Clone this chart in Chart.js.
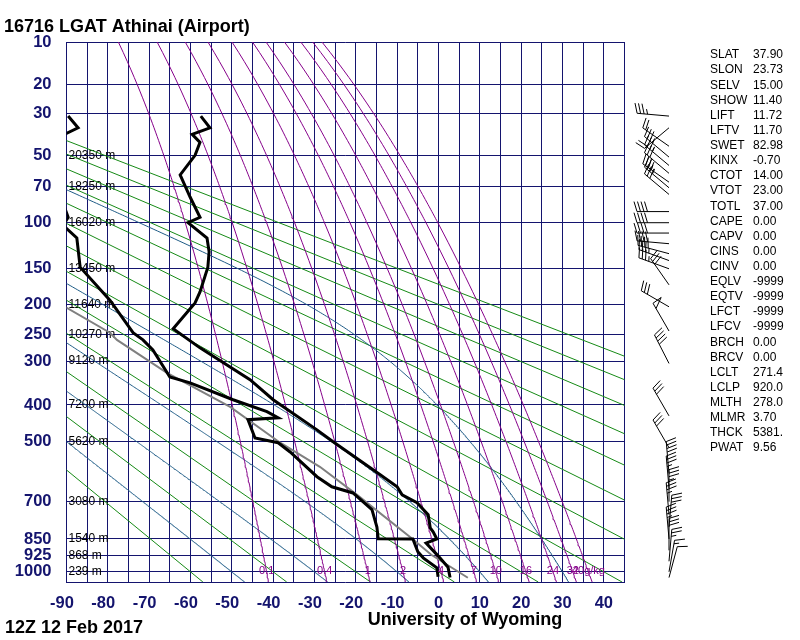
<!DOCTYPE html>
<html>
<head>
<meta charset="utf-8">
<script src="https://cdn.jsdelivr.net/npm/chart.js@4.4.1/dist/chart.umd.min.js"></script>
<style>
  html, body { margin: 0; padding: 0; background: #fff; }
</style>
</head>
<body>
<canvas id="stuve" width="800" height="640"></canvas>
<script>
// sounding (hPa, degC)
const tempP = [31, 36, 39, 43, 50, 62, 78, 95, 100, 115, 130, 148, 181, 197, 239, 274, 340, 387, 466, 500, 604, 646, 675, 704, 750, 803, 820, 850, 868, 925, 978, 1028];
const tempC = [-57.5, -55.3, -59.6, -57.7, -58.9, -62.5, -60.1, -57.7, -60.6, -56.0, -55.5, -55.8, -57.7, -58.9, -64.2, -57.7, -45.6, -40.0, -29.4, -25.5, -14.1, -10.0, -8.8, -5.2, -2.5, -2.0, -1.3, -0.4, -3.0, -0.1, 2.3, 2.8];

const dewP = [31, 36, 39, 55, 80, 87, 95, 100, 104, 115, 148, 193, 246, 259, 278, 334, 347, 387, 417, 433, 438, 489, 503, 531, 611, 646, 668, 730, 800, 849, 850, 906, 934, 981, 1024];
const dewC = [-89.6, -87.2, -90.4, -95, -95, -90.4, -89.6, -90.4, -90.4, -87.5, -86.7, -79.5, -73.9, -71.5, -69.1, -65.0, -60.1, -49.7, -41.5, -38.8, -46.1, -44.4, -38.8, -35.9, -29.4, -25.8, -20.7, -16.1, -14.9, -14.6, -6.2, -5.0, -3.7, -0.4, -0.1];

const parcelP = [1029, 920, 851, 675, 578, 503, 405, 325, 259, 246, 203];
const parcelC = [7.1, -1.75, -6.2, -19.7, -28.7, -38.3, -50.4, -65.7, -77.8, -79.5, -90.4];

// diagram furniture
const pressureTicks = [10, 20, 30, 50, 70, 100, 150, 200, 250, 300, 400, 500, 700, 850, 925, 1000];
const heightP = [50, 70, 100, 150, 200, 250, 300, 400, 500, 700, 850, 925, 1000];
const heightText = ['20350 m', '18250 m', '16020 m', '13450 m', '11640 m', '10270 m', '9120 m', '7200 m', '5620 m', '3080 m', '1540 m', '868 m', '239 m'];
const dryAdiabatT1000 = [-60, -40, -20, 0, 20, 40, 60, 80, 100, 120, 140, 160, 180];
const moistAdiabatT1000 = [-50, -30, -10, 10, 30];
const mixingRatios = [0.1, 0.4, 1, 2, 4, 7, 10, 16, 24, 32, 40];
const mixingText = ['0.1', '0.4', '1', '2', '4', '7', '10', '16', '24', '32', '40g/kg'];

// winds (hPa, deg, knots)
const windP = [31, 36, 45, 51, 56, 61, 67, 71, 76, 90, 100, 110, 121, 132, 140, 150, 171, 203, 243, 305, 428, 518, 600, 650, 700, 750, 800, 850, 900, 950, 1000, 1028];
const windDir = [275, 230, 305, 310, 310, 310, 305, 310, 310, 270, 270, 270, 275, 285, 290, 290, 325, 300, 330, 333, 330, 330, 355, 355, 0, 355, 5, 355, 0, 5, 10, 15];
const windKt = [35, 20, 20, 35, 35, 30, 35, 35, 30, 40, 40, 40, 40, 40, 35, 35, 30, 30, 50, 40, 30, 30, 40, 35, 35, 35, 30, 35, 30, 25, 15, 10];

const statNames = ['SLAT', 'SLON', 'SELV', 'SHOW', 'LIFT', 'LFTV', 'SWET', 'KINX', 'CTOT', 'VTOT', 'TOTL', 'CAPE', 'CAPV', 'CINS', 'CINV', 'EQLV', 'EQTV', 'LFCT', 'LFCV', 'BRCH', 'BRCV', 'LCLT', 'LCLP', 'MLTH', 'MLMR', 'THCK', 'PWAT'];
const statValues = ['37.90', '23.73', '15.00', '11.40', '11.72', '11.70', '82.98', '-0.70', '14.00', '23.00', '37.00', '0.00', '0.00', '0.00', '0.00', '-9999', '-9999', '-9999', '-9999', '0.00', '0.00', '271.4', '920.0', '278.0', '3.70', '5381.', '9.56'];

const KAPPA = 0.286;
const pk = p => Math.pow(p, KAPPA);
const NAVY = '#14146e';

// pressure samples for the curved background lines
const sampleP = [];
for (let p = 1050; p > 100; p -= 10) sampleP.push(p);
for (let p = 100; p >= 10; p -= 2) sampleP.push(p);

function satVap(tc) { return 6.112 * Math.exp(17.67 * tc / (tc + 243.5)); }

function moistLapse(p, tk) {
  const es = satVap(tk - 273.15);
  const rs = 0.622 * es / (p - es);
  const num = 287.04 * tk + 2.501e6 * rs;
  const den = 1005.7 + 2.501e6 * 2.501e6 * rs * 0.622 / (287.04 * tk * tk);
  return num / den / p;
}

function moistCurve(t0) {
  const stepT = (p, t, dp) => {
    const k1 = moistLapse(p, t);
    const k2 = moistLapse(p + dp / 2, t + k1 * dp / 2);
    return t + k2 * dp;
  };
  const up = [];
  let t = t0 + 273.15, p = 1000;
  up.push({ p, t });
  while (p > 10) { const dp = p > 100 ? -2 : -1; t = stepT(p, t, dp); p += dp; up.push({ p, t }); }
  const down = [];
  t = t0 + 273.15; p = 1000;
  while (p < 1050) { t = stepT(p, t, 2); p += 2; down.push({ p, t }); }
  return down.reverse().concat(up).map(o => ({ x: o.t - 273.15, y: pk(o.p) }));
}

function mixingT(w, p) {
  const e = (w / 1000) * p / (0.622 + w / 1000);
  const l = Math.log(e / 6.112);
  return 243.5 * l / (17.67 - l);
}

function mixingCurve(w) {
  return sampleP.map(p => ({ x: mixingT(w, p), y: pk(p) }));
}

const line = (data, color, width, order) => ({
  data, borderColor: color, borderWidth: width, showLine: true,
  pointRadius: 0, fill: false, clip: 0, order, tension: 0
});

const datasets = [];
datasets.push(line(tempP.map((p, i) => ({ x: tempC[i], y: pk(p) })), '#000', 3, 0));
datasets.push(line(dewP.map((p, i) => ({ x: dewC[i], y: pk(p) })), '#000', 3, 0));
datasets.push(line(parcelP.map((p, i) => ({ x: parcelC[i], y: pk(p) })), '#808080', 2, 1));
mixingRatios.forEach(w => datasets.push(line(mixingCurve(w), '#86008a', 1, 2)));
moistAdiabatT1000.forEach(t => datasets.push(line(moistCurve(t), '#1f5c86', 1, 3)));
dryAdiabatT1000.forEach(t => {
  const th = t + 273.15;
  datasets.push(line([1050, 10].map(p => ({ x: th * Math.pow(p / 1000, KAPPA) - 273.15, y: pk(p) })), '#168a16', 1, 4));
});

function drawBarb(ctx, x, y, dir, kt) {
  const r = dir * Math.PI / 180;
  const vx = Math.sin(r), vy = -Math.cos(r);
  const px = -vy, py = vx;
  const L = 32;
  const tx = x + vx * L, ty = y + vy * L;
  ctx.beginPath();
  ctx.moveTo(x, y);
  ctx.lineTo(tx, ty);
  ctx.stroke();
  let s = Math.round(kt / 5) * 5;
  let pos = 0;
  while (s >= 50) {
    const ax = tx - vx * pos, ay = ty - vy * pos;
    const bx = tx - vx * (pos + 6), by = ty - vy * (pos + 6);
    ctx.beginPath();
    ctx.moveTo(ax, ay);
    ctx.lineTo(ax + px * 10 + vx * 1, ay + py * 10 + vy * 1);
    ctx.lineTo(bx, by);
    ctx.stroke();
    s -= 50; pos += 8;
  }
  while (s >= 10) {
    const ax = tx - vx * pos, ay = ty - vy * pos;
    ctx.beginPath();
    ctx.moveTo(ax, ay);
    ctx.lineTo(ax + px * 10 + vx * 3, ay + py * 10 + vy * 3);
    ctx.stroke();
    s -= 10; pos += 3.5;
  }
  if (s >= 5) {
    const ax = tx - vx * pos, ay = ty - vy * pos;
    ctx.beginPath();
    ctx.moveTo(ax, ay);
    ctx.lineTo(ax + px * 5 + vx * 1.5, ay + py * 5 + vy * 1.5);
    ctx.stroke();
  }
}

const decorations = {
  id: 'decorations',
  beforeDatasetsDraw(chart) {
    const { ctx, chartArea, scales } = chart;
    ctx.save();
    ctx.fillStyle = '#000';
    ctx.font = '12px "Liberation Sans", Arial, sans-serif';
    ctx.textBaseline = 'middle';
    ctx.textAlign = 'left';
    heightP.forEach((p, i) => ctx.fillText(heightText[i], chartArea.left + 2, scales.y.getPixelForValue(pk(p))));
    ctx.restore();
  },
  afterDatasetsDraw(chart) {
    const { ctx, scales } = chart;
    ctx.save();
    // mixing ratio labels along 1000 hPa
    ctx.fillStyle = '#86008a';
    ctx.font = '11px "Liberation Sans", Arial, sans-serif';
    ctx.textAlign = 'center';
    ctx.textBaseline = 'middle';
    const y1000 = scales.y.getPixelForValue(pk(1000)) - 1;
    mixingRatios.forEach((w, i) => ctx.fillText(mixingText[i], scales.x.getPixelForValue(mixingT(w, 1000)), y1000));

    // titles
    ctx.fillStyle = '#000';
    ctx.textBaseline = 'alphabetic';
    ctx.font = 'bold 18px "Liberation Sans", Arial, sans-serif';
    ctx.textAlign = 'left';
    ctx.fillText('16716 LGAT Athinai (Airport)', 4, 32);
    ctx.fillText('12Z 12 Feb 2017', 5, 633);
    ctx.textAlign = 'center';
    ctx.fillText('University of Wyoming', 465, 625);

    // station indices
    ctx.font = '12px "Liberation Sans", Arial, sans-serif';
    ctx.textAlign = 'left';
    ctx.textBaseline = 'middle';
    statNames.forEach((n, i) => {
      const y = 55 + i * 15.12;
      ctx.fillText(n, 710, y);
      ctx.fillText(statValues[i], 753, y);
    });

    // wind barbs
    ctx.strokeStyle = '#000';
    ctx.lineWidth = 1;
    windP.forEach((p, i) => drawBarb(ctx, 669, scales.y.getPixelForValue(pk(p)), windDir[i], windKt[i]));
    ctx.restore();
  }
};

new Chart(document.getElementById('stuve'), {
  type: 'scatter',
  data: { datasets },
  options: {
    responsive: false,
    animation: false,
    events: [],
    layout: { padding: { top: 42, right: 175.5, left: 0, bottom: 0 } },
    plugins: { legend: { display: false }, tooltip: { enabled: false } },
    scales: {
      x: {
        type: 'linear',
        min: -90,
        max: 45,
        afterFit: scale => { scale.height = 58; },
        afterBuildTicks: scale => {
          const t = [];
          for (let v = -90; v <= 45; v += 5) t.push({ value: v });
          scale.ticks = t;
        },
        grid: { color: NAVY, lineWidth: 1, drawTicks: false },
        border: { color: NAVY, width: 1 },
        ticks: {
          autoSkip: false,
          maxRotation: 0,
          padding: 12,
          color: NAVY,
          font: { family: '"Liberation Sans", Arial, sans-serif', size: 16.5, weight: 'bold' },
          callback: v => (v % 10 === 0 && v <= 40) ? (v < 0 ? v + '  ' : String(v)) : ''
        }
      },
      y: {
        type: 'linear',
        reverse: true,
        min: pk(10),
        max: pk(1050),
        afterFit: scale => { scale.width = 66.5; },
        afterBuildTicks: scale => { scale.ticks = pressureTicks.map(p => ({ value: pk(p) })); },
        grid: { color: NAVY, lineWidth: 1, drawTicks: false },
        border: { color: NAVY, width: 1 },
        ticks: {
          autoSkip: false,
          padding: 15,
          color: NAVY,
          font: { family: '"Liberation Sans", Arial, sans-serif', size: 16.5, weight: 'bold' },
          callback: (v, i) => String(pressureTicks[i])
        }
      }
    }
  },
  plugins: [decorations]
});
</script>
</body>
</html>
